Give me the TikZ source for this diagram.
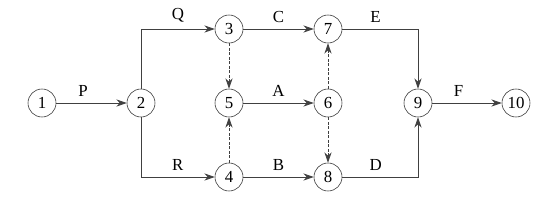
\documentclass[tikz,border=0pt]{standalone}
\usepackage{fontspec}
\setmainfont{Liberation Serif}
\usetikzlibrary{arrows.meta, positioning}

\begin{document}
\begin{tikzpicture}[
    node distance=1.85cm and 2.475cm,
    on grid,
    font=\fontsize{12}{14}\selectfont,
    % Styles
    event/.style={circle, draw=black!80, thin, minimum size=0.7cm, inner sep=0pt},
    arrow/.style={-{Stealth[length=2.6mm, width=1.8mm]}, draw=black!75, semithick},
    dummy/.style={arrow, dash pattern=on 2pt off 1.2pt},
    act/.style={above=3.5pt, inner sep=1pt}
]

% ------------------- EVENTS -------------------
\node[event] (n1) {1};
\node[event, right=of n1] (n2) {2};
\node[event, right=2.2cm of n2] (n5) {5};
\node[event, above=of n5] (n3) {3};
\node[event, below=of n5] (n4) {4};
\node[event, right=of n5] (n6) {6};
\node[event, above=of n6] (n7) {7};
\node[event, below=of n6] (n8) {8};
\node[event, right=2.25cm of n6] (n9) {9};
\node[event, right=2.45cm of n9] (n10) {10};

% ------------------- ACTIVITIES -------------------
\draw[arrow] (n1) -- (n2) node[pos=0.38, act] {P};
\draw[arrow] (n2) |- (n3) node[pos=0.75, act] {Q};
\draw[arrow] (n2) |- (n4) node[pos=0.75, act] {R};
\draw[arrow] (n3) -- (n7) node[midway, act] {C};
\draw[arrow] (n5) -- (n6) node[midway, act] {A};
\draw[arrow] (n4) -- (n8) node[midway, act] {B};
\draw[arrow] (n7) -| (n9) node[pos=0.22, act] {E};
\draw[arrow] (n8) -| (n9) node[pos=0.22, act] {D};
\draw[arrow] (n9) -- (n10) node[pos=0.38, act] {F};

% ------------------- DUMMY ACTIVITIES -------------------
\draw[dummy] (n3) -- (n5);
\draw[dummy] (n4) -- (n5);
\draw[dummy] (n6) -- (n7);
\draw[dummy] (n6) -- (n8);

\useasboundingbox ([xshift=-1.05cm, yshift=2.575cm]n1.center) rectangle ([xshift=12.8cm, yshift=-2.5cm]n1.center);
\end{tikzpicture}
\end{document}
